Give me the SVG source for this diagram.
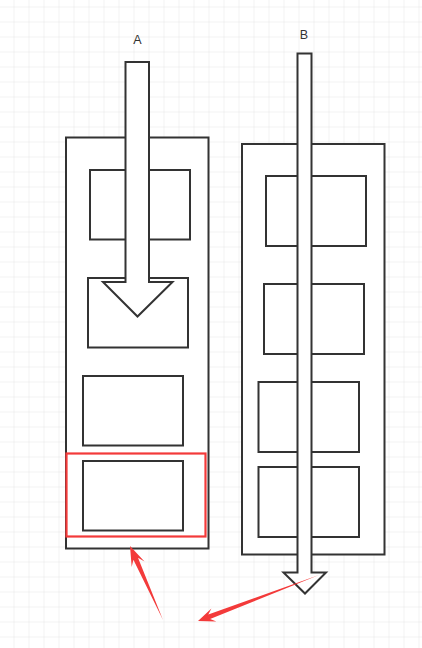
<svg xmlns="http://www.w3.org/2000/svg" width="422" height="648" viewBox="0 0 422 648">
<defs>
<pattern id="grid" patternUnits="userSpaceOnUse" x="13.5" y="6.5" width="15" height="15">
<path d="M0 0H15M0 0V15" fill="none" stroke="#e6e6e6" stroke-width="1"/>
</pattern>
<style>
.box{fill:#fff;stroke:#333;stroke-width:2}
.inner{fill:none;stroke:#333;stroke-width:2}
.arr{fill:#fff;stroke:#333;stroke-width:2;stroke-linejoin:miter}
.hl{fill:none;stroke:#f33a3a;stroke-width:2.2}
.red{fill:#f33a3a;stroke:none}
.lbl{font-family:"Liberation Sans",Arial,sans-serif;font-size:12.5px;fill:#333;text-anchor:middle}
</style>
</defs>
<rect width="422" height="648" fill="#fff"/>
<rect width="422" height="648" fill="url(#grid)"/>
<g id="columnA">
<rect class="box" x="66" y="137.5" width="142.5" height="411"/>
<rect class="inner" x="90" y="170" width="100" height="69.5"/>
<rect class="inner" x="88" y="278" width="100" height="69.5"/>
<rect class="inner" x="83" y="376" width="100" height="69.5"/>
<rect class="inner" x="83" y="461" width="100" height="69.5"/>
</g>
<g id="highlight">
<rect class="hl" x="66.5" y="453.5" width="139" height="83"/>
</g>
<g id="columnB">
<rect class="box" x="242" y="144" width="142.5" height="410.5"/>
<rect class="inner" x="266" y="176" width="100" height="70"/>
<rect class="inner" x="264" y="284" width="100" height="70"/>
<rect class="inner" x="258.5" y="382" width="100.5" height="70"/>
<rect class="inner" x="258.5" y="467" width="100.5" height="70"/>
</g>
<g id="arrowA">
<polygon class="arr" points="125.5,62 149,62 149,282 172.5,282 137.5,316.5 103,282 125.5,282"/>
<text class="lbl" x="137.5" y="44">A</text>
</g>
<g id="arrowB">
<polygon class="arr" points="297.5,53.5 311.5,53.5 311.5,572.5 326,572.5 305,593.5 283.5,572.5 297.5,572.5"/>
<text class="lbl" x="304" y="38.5">B</text>
</g>
<g id="connectors">
<polygon class="red" points="163,620 133.4,559.8 131.7,567.1 130,546 144.5,561.5 138,557.8"/>
<polygon class="red" points="319,575 210.1,619 216.4,621.5 198,621 211.4,608.5 208.3,614.4"/>
</g>
</svg>
